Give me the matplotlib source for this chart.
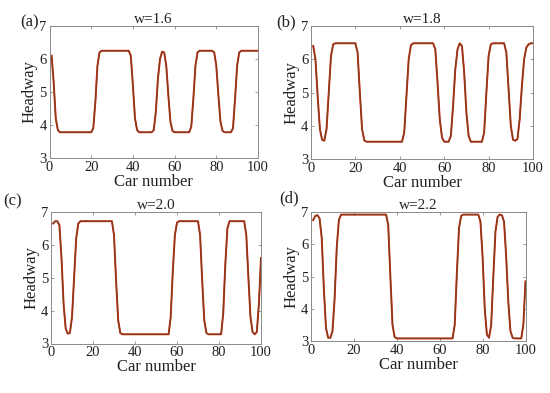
import numpy as np
import matplotlib
matplotlib.use("Agg")
import matplotlib.pyplot as plt

plt.rcParams['font.family'] = ['Liberation Serif', 'DejaVu Serif']

cars = np.arange(1, 101)

# headway values, car 1..100
head_a = ([6.1, 5.3, 4.2, 3.85] + [3.78] * 16
          + [3.9, 4.7, 5.8, 6.2] + [6.25] * 14
          + [6.1, 5.2, 4.2, 3.85] + [3.78] * 7
          + [3.85, 4.4, 5.4, 6.0, 6.22, 6.2, 5.8, 4.9, 4.1, 3.82] + [3.78] * 8
          + [3.95, 4.8, 5.8, 6.2] + [6.25] * 7
          + [6.2, 5.8, 4.9, 4.1, 3.82] + [3.78] * 4
          + [3.9, 4.8, 5.8, 6.2] + [6.25] * 9)

head_b = ([6.4, 6.0, 4.9, 3.9, 3.58, 3.55, 3.9, 5.0, 6.1, 6.45] + [6.48] * 10
          + [6.2, 5.0, 3.9, 3.56] + [3.52] * 17
          + [3.8, 4.9, 6.0, 6.42] + [6.48] * 10
          + [6.3, 5.3, 4.2, 3.65] + [3.52] * 3
          + [3.7, 4.6, 5.7, 6.3, 6.48, 6.4, 5.6, 4.4, 3.7] + [3.52] * 6
          + [3.8, 5.0, 6.1, 6.45] + [6.48] * 6
          + [6.2, 5.1, 4.0, 3.58, 3.55, 3.6, 4.2, 5.2, 6.0, 6.35, 6.45, 6.48, 6.48])

head_c = ([6.65, 6.72, 6.72, 6.6, 5.6, 4.2, 3.45, 3.3, 3.32, 3.8, 5.0, 6.2, 6.65] + [6.72] * 16
          + [6.3, 4.9, 3.7, 3.32] + [3.28] * 23
          + [3.8, 5.2, 6.3, 6.68] + [6.72] * 10
          + [6.3, 4.9, 3.7, 3.32] + [3.28] * 7
          + [3.9, 5.4, 6.5] + [6.72] * 8
          + [6.3, 5.0, 3.8, 3.35, 3.28, 3.35, 4.2, 5.6])

head_d = ([6.75, 6.88, 6.9, 6.8, 6.2, 4.6, 3.4, 3.1, 3.1, 3.3, 4.3, 5.9, 6.75] + [6.92] * 22
          + [6.6, 5.0, 3.5, 3.12] + [3.08] * 27
          + [3.5, 5.1, 6.5, 6.88] + [6.92] * 8
          + [6.7, 5.6, 4.0, 3.2, 3.1, 3.5, 5.0, 6.4, 6.85, 6.92, 6.9, 6.7, 5.6, 4.2, 3.3, 3.1]
          + [3.08] * 4 + [3.5, 4.85])

titles = ["w=1.6", "w=1.8", "w=2.0", "w=2.2"]
letters = ["(a)", "(b)", "(c)", "(d)"]
series = [head_a, head_b, head_c, head_d]

fig = plt.figure(figsize=(5.5, 3.93), dpi=100)
W, H = 550.0, 393.0
# axes boxes in pixels: left, top, right, bottom
boxes = [(49.5, 26, 258, 158), (311, 26, 533, 159), (51, 212, 261, 343.5), (311, 212, 525.5, 341)]
# letter positions in pixels (left x, centre y)
letter_xy = [(20, 22), (276, 22), (3, 201), (279, 198)]

for i, (l, t, r, b) in enumerate(boxes):
    ax = fig.add_axes([l / W, 1 - b / H, (r - l) / W, (b - t) / H])
    y = series[i]
    ax.plot(cars, y, color='#e02020', lw=1.4)
    ax.plot(cars, y, color='#7a4418', lw=0.9)
    ax.set_xlim(0, 100)
    ax.set_ylim(3, 7)
    ax.set_xticks([0, 20, 40, 60, 80, 100])
    ax.set_yticks([3, 4, 5, 6, 7])
    ax.tick_params(direction='in', length=2.5, width=0.6, colors='#8a8a8a',
                   labelcolor='#222222', labelsize=10.5, top=True, right=True, pad=2)
    for s in ax.spines.values():
        s.set_color('#8a8a8a')
        s.set_linewidth(0.7)
    ax.set_xlabel("Car number", fontsize=12, color='#222222', labelpad=0)
    ax.set_ylabel("Headway", fontsize=12, color='#222222', labelpad=1)
    ax.set_title(titles[i], fontsize=11, color='#222222', pad=2)
    lx, ly = letter_xy[i]
    fig.text(lx / W, 1 - ly / H, letters[i], fontsize=12, color='#222222',
             ha='left', va='center')

fig.savefig("out.png", dpi=100)
